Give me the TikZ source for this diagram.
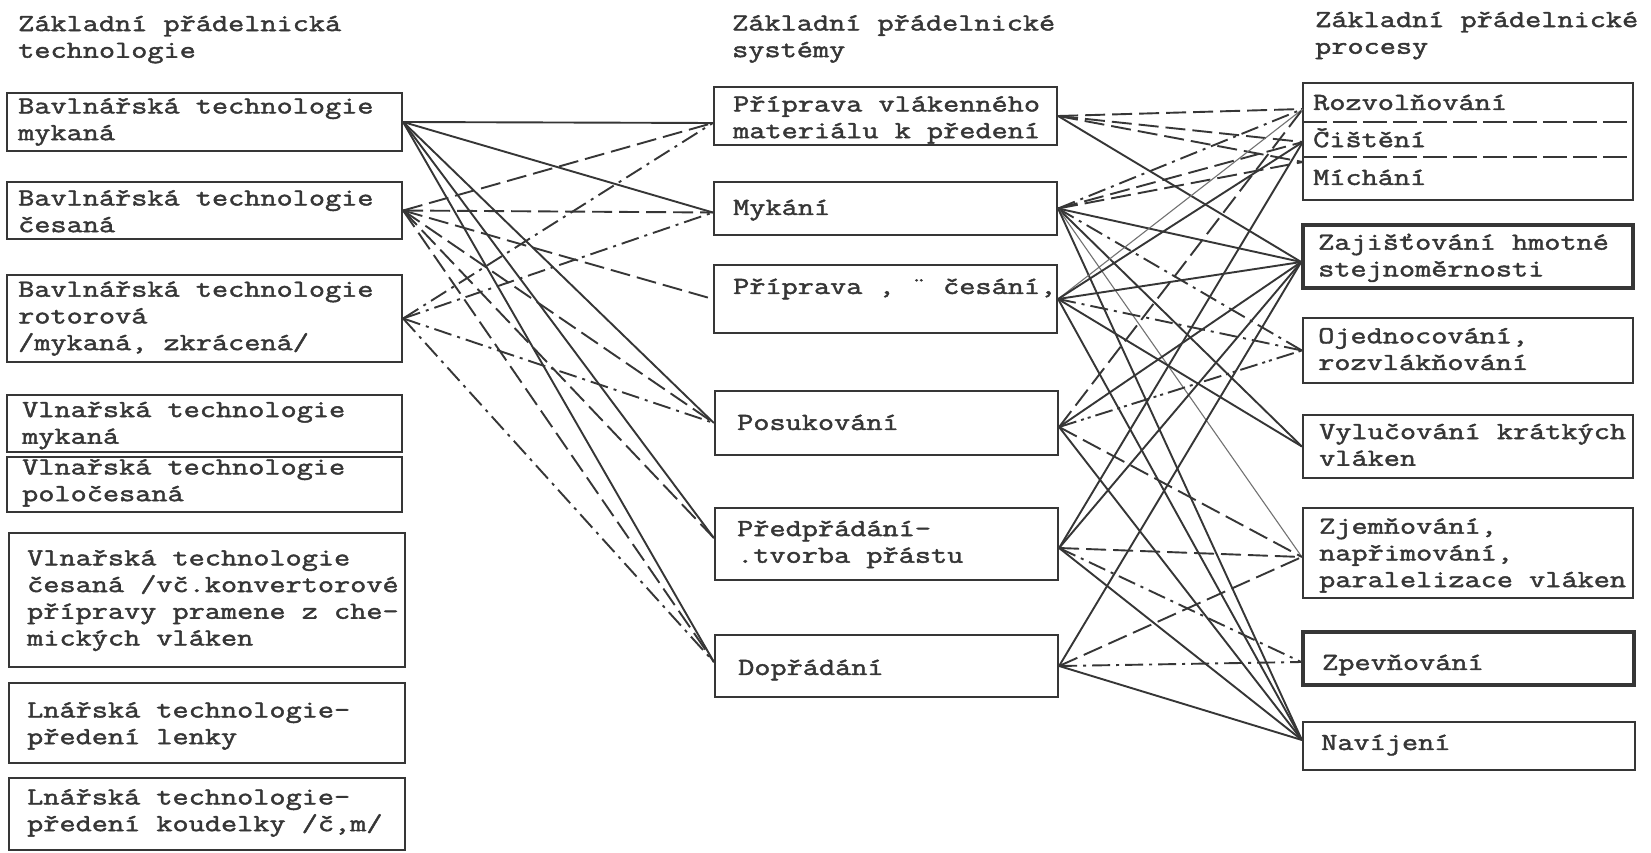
\documentclass[tikz,border=0pt]{standalone}
\usepackage{fontspec}
\setmonofont{Latin Modern Mono}[FakeStretch=1.28, FakeBold=1.8]
\usetikzlibrary{fit,calc}
\definecolor{ink}{HTML}{363636}
\begin{document}
\begin{tikzpicture}[x=1pt,y=-1pt,
  lbl/.style={inner sep=0pt, align=left, anchor=west, text=ink,
    font=\ttfamily\fontsize{24.5}{26.7}\selectfont,
    execute at begin node=\strut, execute at end node=\strut},
  box/.style={draw=ink, line width=2.2pt, inner sep=0pt},
  heavybox/.style={box, line width=3.6pt},
  part/.style={inner sep=0pt},
  divider/.style={draw=ink, line width=2.2pt, dash pattern=on 24pt off 6pt},
  link/.style={draw=ink, line width=1.9pt},
  dashlink/.style={link, dash pattern=on 20pt off 7pt},
  dotlink/.style={link, dash pattern=on 18pt off 6pt on 3pt off 6pt},
  ddotlink/.style={link, dash pattern=on 18pt off 5pt on 3pt off 4pt on 3pt off 5pt},
  faintlink/.style={draw=ink!70, line width=1.1pt},
]
\useasboundingbox (0,0) rectangle (1651,853);
\fill[white] (0,0) rectangle (1651,853);

% column headings
\node[lbl] (hl) at (18,40.6) {Základní přádelnická\\technologie};
\node[lbl] (hm) at (732,40) {Základní přádelnické\\systémy};
\node[lbl] (hr) at (1315,36.6) {Základní přádelnické\\procesy};

% technologies
\node[box, fit={(7,93)(402,151)}] (t1) {};
\node[box, fit={(7,182)(402,239)}] (t2) {};
\node[box, fit={(7,275)(402,362)}] (t3) {};
\node[box, fit={(7,395)(402,452)}] (t4) {};
\node[box, fit={(7,457)(402,512)}] (t5) {};
\node[box, fit={(9,533)(405,667)}] (t6) {};
\node[box, fit={(9,683)(405,763)}] (t7) {};
\node[box, fit={(9,778)(405,850)}] (t8) {};
\node[lbl] (t1t) at (18,123) {Bavlnářská technologie\\mykaná};
\node[lbl] (t2t) at (18,215) {Bavlnářská technologie\\česaná};
\node[lbl] (t3t) at (18,319.6) {Bavlnářská technologie\\rotorová\\/mykaná, zkrácená/};
\node[lbl] (t4t) at (22,426.6) {Vlnařská technologie\\mykaná};
\node[lbl] (t5t) at (22,484) {Vlnařská technologie\\poločesaná};
\node[lbl] (t6t) at (27,601.6) {Vlnařská technologie\\česaná /vč.konvertorové\\přípravy pramene z che-\\mických vláken};
\node[lbl] (t7t) at (27,727) {Lnářská technologie-\\předení lenky};
\node[lbl] (t8t) at (27,814) {Lnářská technologie-\\předení koudelky /č,m/};

% spinning systems
\node[box, fit={(714,87)(1057,145)}] (s1) {};
\node[box, fit={(714,182)(1057,235)}] (s2) {};
\node[box, fit={(714,265)(1057,333)}] (s3) {};
\node[box, fit={(715,391)(1058,455)}] (s4) {};
\node[box, fit={(715,508)(1058,580)}] (s5) {};
\node[box, fit={(715,635)(1058,697)}] (s6) {};
\node[lbl] (s1t) at (733,121) {Příprava vlákenného\\materiálu k předení};
\node[lbl] (s2t) at (733,209.6) {Mykání};
\node[lbl] (s3t) at (733,288.6) {Příprava , ¨ česání,};
\node[lbl] (s4t) at (737,424.6) {Posukování};
\node[lbl] (s5t) at (737,545.6) {Předpřádání-\\.tvorba přástu};
\node[lbl] (s6t) at (738,669.6) {Dopřádání};

% spinning processes
\node[box, fit={(1303,83)(1633,200)}] (grp) {};
\node[part, fit={(1303,83)(1633,122)}] (rozv) {};
\node[part, fit={(1303,122)(1633,157)}] (cist) {};
\node[part, fit={(1303,157)(1633,200)}] (mich) {};
\draw[divider] (rozv.south west) -- (rozv.south east);
\draw[divider] (cist.south west) -- (cist.south east);
\node[heavybox, fit={(1303,225)(1633,288)}] (zaj) {};
\node[box, fit={(1303,318)(1633,383)}] (ojed) {};
\node[box, fit={(1303,415)(1633,478)}] (vyl) {};
\node[box, fit={(1303,508)(1633,598)}] (zjem) {};
\node[heavybox, fit={(1303,632)(1634,685)}] (zpev) {};
\node[box, fit={(1303,722)(1635,770)}] (navi) {};
\node[lbl] (rozvt) at (1313,104.6) {Rozvolňování};
\node[lbl] (cistt) at (1313,141.6) {Čištění};
\node[lbl] (micht) at (1313,179.6) {Míchání};
\node[lbl] (zajt) at (1318,259) {Zajišťování hmotné\\stejnoměrnosti};
\node[lbl] (ojedt) at (1318,353) {Ojednocování,\\rozvlákňování};
\node[lbl] (vylt) at (1319,448.6) {Vylučování krátkých\\vláken};
\node[lbl] (zjemt) at (1319,556.6) {Zjemňování,\\napřimování,\\paralelizace vláken};
\node[lbl] (zpevt) at (1322,664.6) {Zpevňování};
\node[lbl] (navit) at (1321,744.6) {Navíjení};

% attachment points
\coordinate (s1-in) at ([yshift=-7pt]s1.west);
\coordinate (s2-in) at ([yshift=-4pt]s2.west);
\coordinate (s5-in) at ([yshift=6pt]s5.west);
\coordinate (s6-in) at ([yshift=4pt]s6.west);
\coordinate (s4-out) at ([yshift=-4pt]s4.east);
\coordinate (s5-out) at ([yshift=-4pt]s5.east);
\coordinate (rozv-in) at ([yshift=-6.5pt]rozv.west);
\coordinate (cist-in) at ([yshift=-2.5pt]cist.west);
\coordinate (mich-in) at ([yshift=16.5pt]mich.west);
\coordinate (zaj-in) at ([yshift=-5.5pt]zaj.west);
\coordinate (zjem-in) at ([yshift=-4pt]zjem.west);
\coordinate (zpev-in) at ([yshift=-3.5pt]zpev.west);
\coordinate (navi-in) at ([yshift=6pt]navi.west);

% technologies -> systems
\foreach \s in {s1-in,s2-in,s4.west,s5-in,s6-in}
  \draw[link] (t1.east) -- (\s);
\foreach \s in {s1-in,s2-in,s3.west,s4.west,s5-in,s6-in}
  \draw[dashlink] (t2.east) -- (\s);
\foreach \s in {s1-in,s2-in,s4.west,s6-in}
  \draw[dotlink] (t3.east) -- (\s);

% systems -> processes
\draw[dashlink] (s1.east) -- (rozv-in);
\draw[dashlink] (s1.east) -- (cist-in);
\draw[dashlink] (s1.east) -- (mich-in);
\draw[link] (s1.east) -- (zaj-in);

\draw[dotlink] (s2.east) -- (rozv-in);
\draw[dashlink] (s2.east) -- (cist-in);
\draw[dashlink] (s2.east) -- (mich-in);
\draw[link] (s2.east) -- (zaj-in);
\draw[dotlink] (s2.east) -- (ojed.west);
\draw[link] (s2.east) -- (vyl.west);
\draw[faintlink] (s2.east) -- (zjem-in);
\draw[link] (s2.east) -- (navi-in);

\draw[faintlink] (s3.east) -- (rozv-in);
\draw[link] (s3.east) -- (cist-in);
\draw[link] (s3.east) -- (zaj-in);
\draw[dotlink] (s3.east) -- (ojed.west);
\draw[link] (s3.east) -- (vyl.west);
\draw[link] (s3.east) -- (navi-in);

\draw[dashlink] (s4-out) -- (rozv-in);
\draw[link] (s4-out) -- (zaj-in);
\draw[ddotlink] (s4-out) -- (ojed.west);
\draw[dashlink] (s4-out) -- (zjem-in);
\draw[link] (s4-out) -- (navi-in);

\draw[link] (s5-out) -- (cist-in);
\draw[link] (s5-out) -- (zaj-in);
\draw[dashlink] (s5-out) -- (zjem-in);
\draw[dotlink] (s5-out) -- (zpev-in);
\draw[link] (s5-out) -- (navi-in);

\draw[link] (s6.east) -- (zaj-in);
\draw[dashlink] (s6.east) -- (zjem-in);
\draw[dotlink] (s6.east) -- (zpev-in);
\draw[link] (s6.east) -- (navi-in);
\end{tikzpicture}
\end{document}
